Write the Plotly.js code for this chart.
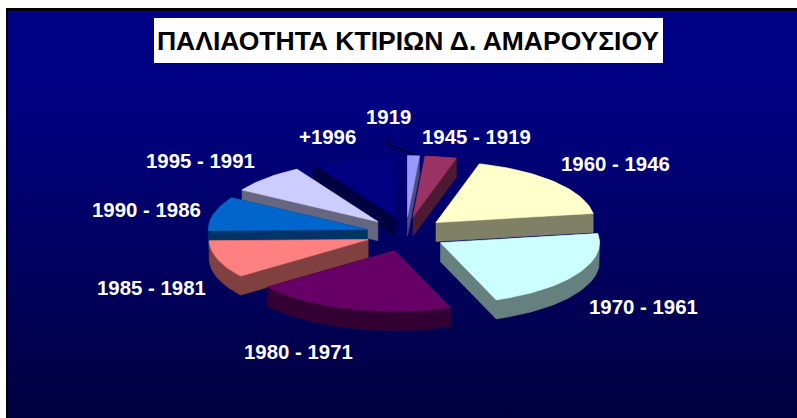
<!DOCTYPE html>
<html><head><meta charset="utf-8">
<script src="https://cdn.plot.ly/plotly-3.0.1.min.js"></script>
<style>
html,body{margin:0;padding:0;background:#fff;width:797px;height:418px;overflow:hidden}
#frame{position:absolute;left:6px;top:8px;width:791px;height:410px;box-sizing:border-box;border-left:2px solid #000;border-top:3px solid #000;background:linear-gradient(180deg,#000086 0%,#000080 25%,#000060 60%,#000040 100%)}
#chart{position:absolute;left:0;top:0;width:797px;height:418px}
</style></head><body>
<div id="frame"></div><div id="chart"></div>
<script>
// Data, clockwise from the top of the pie
var categories = ['1919','1945 - 1919','1960 - 1946','1970 - 1961','1980 - 1971','1985 - 1981','1990 - 1986','1995 - 1991','+1996'];
var shares = [1.2,3.2,18.2,21.7,20.5,9.9,9.0,7.8,8.5];
var titleText = 'ΠΑΛΙΑΟΤΗΤΑ ΚΤΙΡΙΩΝ Δ. ΑΜΑΡΟΥΣΙΟΥ';

// Styles and geometry
var topColors = ['#9999FF','#993366','#FFFFCC','#CCFFFF','#660066','#FF8080','#0066CC','#CCCCFF','#000080'];
var sideColors = ['#4C4C80','#4D1A33','#808066','#668080','#330033','#804040','#003366','#666680','#000040'];
var labelX = [388,476,615,643,298,151,146,200,327];
var labelY = [117,137,164,307,352,288,210,161,137];
var CX=406, CY=234, RX=159, RY=61, DEPTH=19, PULL_X=40, PULL_Y=17.3;
var drawOrder = [8,0,1,7,2,6,5,3,4];

function hull(pts){
  var p=pts.slice().sort(function(a,b){return a[0]-b[0]||a[1]-b[1];});
  function cross(o,a,b){return (a[0]-o[0])*(b[1]-o[1])-(a[1]-o[1])*(b[0]-o[0]);}
  var lo=[],up=[];
  p.forEach(function(q){while(lo.length>1&&cross(lo[lo.length-2],lo[lo.length-1],q)<=0)lo.pop();lo.push(q);});
  p.slice().reverse().forEach(function(q){while(up.length>1&&cross(up[up.length-2],up[up.length-1],q)<=0)up.pop();up.push(q);});
  return lo.slice(0,-1).concat(up.slice(0,-1));
}
var total=shares.reduce(function(a,b){return a+b;},0), acc=0, slices=[];
shares.forEach(function(v,i){
  var a0=acc/total*2*Math.PI; acc+=v; var a1=acc/total*2*Math.PI, mid=(a0+a1)/2;
  var ax=CX+PULL_X*Math.sin(mid), ay=CY-PULL_Y*Math.cos(mid);
  var pts=[[ax,ay]], n=Math.max(2,Math.ceil((a1-a0)/0.03));
  for(var k=0;k<=n;k++){var t=a0+(a1-a0)*k/n;pts.push([ax+RX*Math.sin(t),ay-RY*Math.cos(t)]);}
  slices[i]={pts:pts,arcMid:[ax+RX*Math.sin(mid),ay-RY*Math.cos(mid)]};
});
function poly(pts,color,name){
  var c=pts.concat([pts[0]]);
  return {type:'scatter',mode:'lines',x:c.map(function(p){return p[0];}),y:c.map(function(p){return p[1];}),
    fill:'toself',fillcolor:color,line:{color:color,width:0.6},hoverinfo:'skip',name:name,showlegend:false};
}
var traces=[];
drawOrder.forEach(function(i){
  var s=slices[i];
  var ext=s.pts.concat(s.pts.map(function(p){return [p[0],p[1]+DEPTH];}));
  traces.push(poly(hull(ext),sideColors[i],categories[i]+' side'));
  traces.push(poly(s.pts,topColors[i],categories[i]));
});
// Leader line for the smallest slice
var m=slices[0].arcMid;
traces.push({type:'scatter',mode:'lines',x:[labelX[0],labelX[0],m[0]],y:[labelY[0]+19,labelY[0]+27,m[1]-1],
  line:{color:'#000',width:1},hoverinfo:'skip',showlegend:false});

var annotations=categories.map(function(c,i){
  return {text:'<b>'+c+'</b>',x:labelX[i],y:labelY[i],xref:'x',yref:'y',showarrow:false,xanchor:'center',yanchor:'middle',
    font:{family:'Liberation Sans, Arial, sans-serif',size:20.4,color:'#fff'}};
});
var layout={width:797,height:418,margin:{l:0,r:0,t:0,b:0},paper_bgcolor:'rgba(0,0,0,0)',plot_bgcolor:'rgba(0,0,0,0)',
  xaxis:{visible:false,range:[0,797],fixedrange:true},yaxis:{visible:false,range:[418,0],fixedrange:true},
  showlegend:false,annotations:annotations,
  title:{text:'<b>'+titleText+'</b>',x:408/797,xanchor:'center',y:1-40.5/418,yanchor:'middle',
    font:{family:'Liberation Sans, Arial, sans-serif',size:26.5,color:'#000'}},
  shapes:[{type:'rect',xref:'x',yref:'y',x0:154,x1:663,y0:18,y1:63,fillcolor:'#fff',line:{width:0},layer:'above'}]};
Plotly.newPlot('chart',traces,layout,{displayModeBar:false,staticPlot:true});
</script></body></html>
